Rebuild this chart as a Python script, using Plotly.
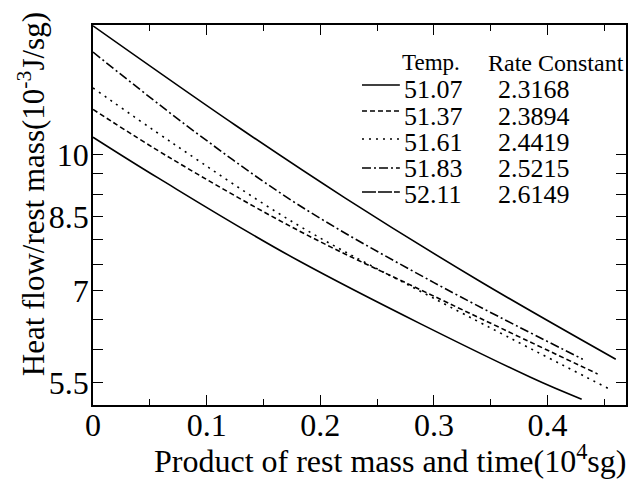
import math
import plotly.graph_objects as go

# ---- data ----
temps = ["51.07", "51.37", "51.61", "51.83", "52.11"]
rates = ["2.3168", "2.3894", "2.4419", "2.5215", "2.6149"]

x_51_07 = [0, 0.058, 0.181, 0.385, 0.430]
y_51_07 = [10.46, 9.39, 7.57, 5.58, 5.27]
x_51_37 = [0, 0.07, 0.181, 0.30, 0.444]
y_51_37 = [11.25, 9.87, 8.19, 6.90, 5.63]
x_51_61 = [0, 0.07, 0.181, 0.30, 0.457]
y_51_61 = [11.9, 10.3, 8.30, 6.86, 5.39]
x_51_83 = [0, 0.09, 0.181, 0.30, 0.431]
y_51_83 = [13.07, 10.6, 8.76, 7.15, 5.85]
x_52_11 = [0, 0.125, 0.222, 0.34, 0.460]
y_52_11 = [14.0, 10.80, 8.92, 7.18, 5.85]

y_tickvals = [5.5, 6, 6.5, 7, 7.5, 8, 8.5, 9, 9.5, 10]
y_ticklabels = ["5.5", "", "", "7", "", "", "8.5", "", "", "10"]
x_tickvals = [0, 0.1, 0.2, 0.3, 0.4]
x_ticklabels = ["0", "0.1", "0.2", "0.3", "0.4"]

series_x = [x_51_07, x_51_37, x_51_61, x_51_83, x_52_11]
series_y = [y_51_07, y_51_37, y_51_61, y_51_83, y_52_11]
dashes = ["solid", "5px,3px", "2px,5px", "9px,3px,2px,3px", "solid"]
legend_dashes = ["solid", "5px,3px", "2px,5px", "9px,3px,2px,3px", "14px,2px"]

# ---- layout geometry (pixels) ----
W, H = 640, 481
L, R, T, B = 93, 628, 25, 405
FONT = "Liberation Serif"

def px(x):
    return (x - L) / (R - L)

def py(y):
    return (B - y) / (B - T)

fig = go.Figure()
for xs, ys, d, t in zip(series_x, series_y, dashes, temps):
    fig.add_trace(go.Scatter(x=xs, y=ys, mode="lines", name=t,
                             line=dict(color="black", width=1.6, dash=d, shape="spline", smoothing=1.0),
                             showlegend=False))

axis_common = dict(showline=True, linecolor="black", linewidth=1.6, mirror="allticks",
                   ticks="inside", tickcolor="black", tickwidth=1.4, showgrid=False, zeroline=False,
                   tickfont=dict(family=FONT, size=32, color="#000000"))

fig.update_xaxes(range=[0, 0.469], tickvals=x_tickvals, ticktext=x_ticklabels, ticklen=10,
                 minor=dict(dtick=0.05, ticks="inside", ticklen=6, tickcolor="black", tickwidth=1.4),
                 ticklabelstandoff=-9, **axis_common)
fig.update_yaxes(type="log", range=[math.log10(5.19), math.log10(14.03)], tickvals=y_tickvals,
                 ticktext=y_ticklabels, ticklen=10, ticklabelstandoff=-4, **axis_common)

anns = []
# axis titles
anns.append(dict(x=px(391), y=py(459), xref="paper", yref="paper", showarrow=False,
                 text="Product of rest mass and time(10<sup>4</sup>sg)",
                 font=dict(family=FONT, size=32, color="#000000"), xanchor="center", yanchor="middle"))
anns.append(dict(x=px(31), y=py(194), xref="paper", yref="paper", showarrow=False, textangle=-90,
                 text="Heat flow/rest mass(10<sup>-3</sup>J/sg)",
                 font=dict(family=FONT, size=31, color="#000000"), xanchor="center", yanchor="middle"))
# legend table
anns.append(dict(x=px(432), y=py(63), xref="paper", yref="paper", showarrow=False, text="Temp.",
                 font=dict(family=FONT, size=23, color="#000000"), xanchor="center", yanchor="middle"))
anns.append(dict(x=px(558), y=py(63), xref="paper", yref="paper", showarrow=False, text="Rate Constant",
                 font=dict(family=FONT, size=24, color="#000000"), xanchor="center", yanchor="middle"))
row_y = [90, 116.5, 142, 169, 194.5]
line_y = [85, 111, 139, 168, 192]
shapes = []
for t, r, ry, ly, d in zip(temps, rates, row_y, line_y, legend_dashes):
    anns.append(dict(x=px(404), y=py(ry), xref="paper", yref="paper", showarrow=False, text=t,
                     font=dict(family=FONT, size=26, color="#000000"), xanchor="left", yanchor="middle",
                     borderpad=0))
    anns.append(dict(x=px(536), y=py(ry), xref="paper", yref="paper", showarrow=False, text=r,
                     font=dict(family=FONT, size=26, color="#000000"), xanchor="center", yanchor="middle",
                     borderpad=0))
    shapes.append(dict(type="line", xref="paper", yref="paper", x0=px(363), x1=px(401), y0=py(ly), y1=py(ly),
                       line=dict(color="black", width=1.6, dash=d)))

fig.update_layout(width=W, height=H, margin=dict(l=L, r=W - R, t=T, b=H - B),
                  paper_bgcolor="white", plot_bgcolor="white", annotations=anns, shapes=shapes,
                  showlegend=False)
fig.write_html("out.html")
